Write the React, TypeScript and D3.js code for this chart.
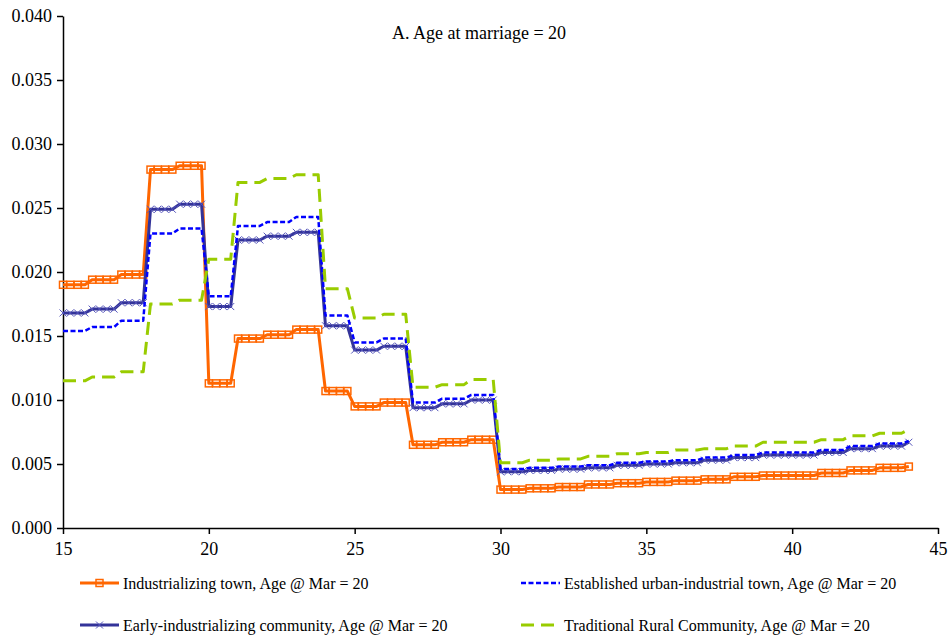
import React, { useEffect, useRef } from 'react';
import * as d3 from 'd3';

const ages = [15, 16, 17, 18, 19, 20, 21, 22, 23, 24, 25, 26, 27, 28, 29, 30, 31, 32, 33, 34, 35, 36, 37, 38, 39, 40, 41, 42, 43, 44];

const industrializing = [0.0190, 0.0194, 0.0198, 0.0280, 0.0283, 0.0113, 0.0148, 0.0151, 0.0155, 0.0107, 0.0095, 0.0098, 0.0065, 0.0067, 0.0069, 0.0030, 0.0031, 0.0032, 0.0034, 0.0035, 0.0036, 0.0037, 0.0038, 0.0040, 0.0041, 0.0041, 0.0043, 0.0045, 0.0047, 0.0048];
const established = [0.0154, 0.0157, 0.0162, 0.0230, 0.0234, 0.0181, 0.0236, 0.0239, 0.0243, 0.0166, 0.0145, 0.0148, 0.0098, 0.0101, 0.0104, 0.0046, 0.0047, 0.0048, 0.0049, 0.0051, 0.0052, 0.0053, 0.0055, 0.0057, 0.0059, 0.0059, 0.0061, 0.0064, 0.0066, 0.0068];
const earlyIndustrializing = [0.0168, 0.0171, 0.0176, 0.0249, 0.0253, 0.0173, 0.0225, 0.0228, 0.0231, 0.0158, 0.0139, 0.0142, 0.0094, 0.0097, 0.0100, 0.0044, 0.0045, 0.0046, 0.0047, 0.0049, 0.0050, 0.0051, 0.0053, 0.0055, 0.0057, 0.0057, 0.0059, 0.0062, 0.0064, 0.0067];
const traditional = [0.0115, 0.0118, 0.0122, 0.0175, 0.0178, 0.0210, 0.0270, 0.0273, 0.0276, 0.0187, 0.0164, 0.0167, 0.0110, 0.0112, 0.0116, 0.0051, 0.0053, 0.0054, 0.0056, 0.0058, 0.0059, 0.0061, 0.0062, 0.0064, 0.0067, 0.0067, 0.0069, 0.0072, 0.0074, 0.0077];

const yTicks = [0, 0.005, 0.01, 0.015, 0.02, 0.025, 0.03, 0.035, 0.04];
const xTicks = [15, 20, 25, 30, 35, 40, 45];
const quarters = [0, 0.25, 0.5, 0.75];

const series = [
  { name: 'Industrializing town, Age @ Mar = 20', values: industrializing, color: '#FF6600', width: 3, dash: null, marker: 'square' },
  { name: 'Early-industrializing community, Age @ Mar = 20', values: earlyIndustrializing, color: '#333399', width: 3, dash: null, marker: 'x' },
  { name: 'Established urban-industrial town, Age @ Mar = 20', values: established, color: '#0000FF', width: 2.5, dash: '5,2.5', marker: null },
  { name: 'Traditional Rural Community, Age @ Mar = 20', values: traditional, color: '#99CC00', width: 3, dash: '13,7', marker: null },
];

// quarterly points, each year's value held until the next year
function toPoints(values: number[]) {
  const pts: [number, number][] = [];
  ages.forEach((a, i) => {
    if (a === 44) pts.push([a, values[i]]);
    else quarters.forEach(q => pts.push([a + q, values[i]]));
  });
  return pts;
}

const FONT = "'Liberation Serif', 'DejaVu Serif', serif";

function App() {
  const svgRef = useRef<SVGSVGElement>(null);

  useEffect(() => {
    const svg = d3.select(svgRef.current);
    svg.selectAll('*').remove();

    const x = d3.scaleLinear().domain([15, 45]).range([63, 938]);
    const y = d3.scaleLinear().domain([0, 0.04]).range([528, 16]);

    // y axis
    const yAxis = svg.append('g')
      .attr('transform', 'translate(63,0)')
      .call(d3.axisLeft(y).tickValues(yTicks).tickFormat(d3.format('.3f')).tickSize(6).tickSizeOuter(0));
    yAxis.attr('font-family', null);
    yAxis.select('.domain').attr('stroke', '#000').attr('stroke-width', 1.5);
    yAxis.selectAll('.tick line').attr('stroke', '#000').attr('stroke-width', 1.5);
    yAxis.selectAll('text')
      .style('font-family', FONT).attr('font-size', 18).attr('fill', '#000').attr('x', -11);

    // x axis
    const xAxis = svg.append('g')
      .attr('transform', 'translate(0,528)')
      .call(d3.axisBottom(x).tickValues(xTicks).tickFormat(d3.format('d')).tickSize(6).tickSizeOuter(0));
    xAxis.attr('font-family', null);
    xAxis.select('.domain').attr('stroke', '#000').attr('stroke-width', 1.5);
    xAxis.selectAll('.tick line').attr('stroke', '#000').attr('stroke-width', 1.5);
    xAxis.selectAll('text')
      .style('font-family', FONT).attr('font-size', 18).attr('fill', '#000').attr('y', 14);

    const line = d3.line<[number, number]>().x(d => x(d[0])).y(d => y(d[1]));

    const drawMarker = (g: any, kind: string, cx: number, cy: number, color: string) => {
      if (kind === 'square') {
        g.append('rect')
          .attr('x', cx - 3.5).attr('y', cy - 3.5).attr('width', 7).attr('height', 7)
          .attr('fill', 'none').attr('stroke', color).attr('stroke-width', 1.5);
      } else if (kind === 'x') {
        g.append('path')
          .attr('d', `M${cx - 3.5},${cy - 3.5}L${cx + 3.5},${cy + 3.5}M${cx - 3.5},${cy + 3.5}L${cx + 3.5},${cy - 3.5}`)
          .attr('stroke', '#5555bb').attr('stroke-width', 1);
      }
    };

    series.forEach(s => {
      const pts = toPoints(s.values);
      const g = svg.append('g');
      g.append('path')
        .attr('d', line(pts))
        .attr('fill', 'none')
        .attr('stroke', s.color)
        .attr('stroke-width', s.width)
        .attr('stroke-dasharray', s.dash)
        .attr('stroke-linejoin', 'round');
      if (s.marker) {
        pts.forEach(p => drawMarker(g, s.marker as string, x(p[0]), y(p[1]), s.color));
      }
    });

    // title
    svg.append('text')
      .attr('x', 479).attr('y', 39)
      .attr('text-anchor', 'middle')
      .style('font-family', FONT).attr('font-size', 18)
      .text('A. Age at marriage = 20');

    // legend: left-right, then top-bottom
    const legendPos = [
      { s: series[0], lx: 80, ly: 583 },
      { s: series[2], lx: 521, ly: 583 },
      { s: series[1], lx: 80, ly: 625 },
      { s: series[3], lx: 521, ly: 625 },
    ];
    legendPos.forEach(({ s, lx, ly }) => {
      const g = svg.append('g');
      g.append('line')
        .attr('x1', lx).attr('x2', lx + 39).attr('y1', ly).attr('y2', ly)
        .attr('stroke', s.color).attr('stroke-width', s.width)
        .attr('stroke-dasharray', s.dash);
      if (s.marker) drawMarker(g, s.marker, lx + 19.5, ly, s.color);
      g.append('text')
        .attr('x', lx + 43).attr('y', ly + 5.5)
        .style('font-family', FONT).attr('font-size', 16)
        .text(s.name);
    });
  }, []);

  return (
    <svg ref={svgRef} width={948} height={641}
      style={{ position: 'absolute', left: 0, top: 0, background: '#fff', display: 'block' }} />
  );
}

export default App;
